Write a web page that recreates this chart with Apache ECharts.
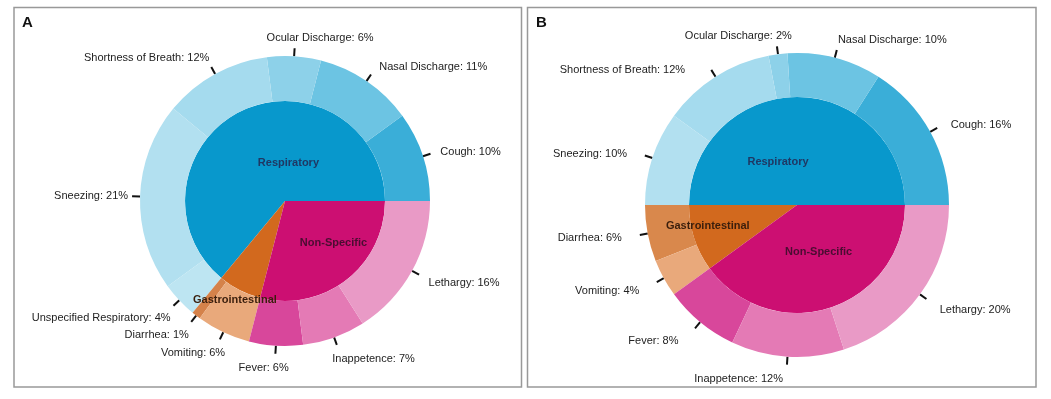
<!DOCTYPE html>
<html>
<head>
<meta charset="utf-8">
<script src="https://cdn.jsdelivr.net/npm/echarts@6/dist/echarts.min.js"></script>
<style>
  html, body { margin: 0; padding: 0; background: #fff; }
  #chart { width: 1051px; height: 399px; }
</style>
</head>
<body>
<div id="chart"></div>
<script>
// categories
var groupNames = ['Respiratory', 'Gastrointestinal', 'Non-Specific'];

// panel A
var symptomNamesA = ['Cough', 'Nasal Discharge', 'Ocular Discharge', 'Shortness of Breath', 'Sneezing',
  'Unspecified Respiratory', 'Diarrhea', 'Vomiting', 'Fever', 'Inappetence', 'Lethargy'];
var symptomValuesA = [10, 11, 6, 12, 21, 4, 1, 6, 6, 7, 16];
var groupValuesA = [64, 7, 29];

// panel B
var symptomNamesB = ['Cough', 'Nasal Discharge', 'Ocular Discharge', 'Shortness of Breath', 'Sneezing',
  'Diarrhea', 'Vomiting', 'Fever', 'Inappetence', 'Lethargy'];
var symptomValuesB = [16, 10, 2, 12, 10, 6, 4, 8, 12, 20];
var groupValuesB = [50, 10, 40];

// colours
var groupColors = ['#0898cc', '#d2691e', '#cc0f72'];
var groupTextColors = ['#1f3864', '#3a1e0c', '#4a0d31'];
var symptomColorsA = ['#3aaed8', '#6cc4e3', '#8dd1e9', '#a5dbee', '#b2e0f0', '#bde5f2',
  '#d5824a', '#e9a97b', '#d8479b', '#e47ab5', '#e99ac6'];
var symptomColorsB = ['#3aaed8', '#6cc4e3', '#8dd1e9', '#a5dbee', '#b2e0f0',
  '#d9884c', '#e9a97b', '#d8479b', '#e47ab5', '#e99ac6'];

var font = '"Liberation Sans", Arial, sans-serif';

function toData(names, values, colors, textColors) {
  return names.map(function (n, i) {
    var item = { name: n, value: values[i], itemStyle: { color: colors[i] } };
    if (textColors) item.label = { color: textColors[i] };
    return item;
  });
}

function clamp(v) { return Math.max(0, Math.min(1, v)); }

// tick + label placement around the ring (R-style pie labels)
// opt: shiftL / shiftR = extra horizontal room per side, nudge = {index: [dx, dy]}
function tickLayout(cx, cy, R, values, opt) {
  var sum = 0, acc = 0, mids = [];
  values.forEach(function (v) { sum += v; });
  values.forEach(function (v) {
    mids.push((acc + v / 2) / sum * 2 * Math.PI);
    acc += v;
  });
  return function (p) {
    var a = mids[p.dataIndex], c = Math.cos(a), s = Math.sin(a);
    var p0 = [cx + R * c, cy - R * s];
    var p1 = [cx + (R + 8) * c, cy - (R + 8) * s];
    var ax = cx + (R + 12) * c, ay = cy - (R + 12) * s;
    ax += (c < 0 ? opt.shiftL : opt.shiftR) * Math.min(1, 2 * Math.abs(c));
    if (s < 0) ay += -s * 4;
    var hj = 0.5 - 0.5 * (c < 0 ? -1 : 1) * Math.sqrt(Math.min(1, Math.abs(c) / 0.3));
    var vj = s > 0 ? 0.5 + 0.5 * s * s : clamp(0.5 + 0.75 * s);
    var n = opt.nudge[p.dataIndex] || [0, 0];
    return {
      x: ax - hj * p.labelRect.width + n[0],
      y: ay - vj * p.labelRect.height + n[1],
      align: 'left',
      verticalAlign: 'top',
      labelLinePoints: [p0, p1]
    };
  };
}

function nudgeLayout(nudges) {
  return function (p) {
    var n = nudges[p.dataIndex];
    return { dx: n[0], dy: n[1] };
  };
}

function innerPie(center, r, values, nudges) {
  return {
    type: 'pie',
    silent: true,
    center: center,
    radius: [0, r],
    startAngle: 0,
    clockwise: false,
    avoidLabelOverlap: false,
    itemStyle: { borderWidth: 0 },
    label: {
      position: 'inside',
      formatter: '{b}',
      fontFamily: font,
      fontSize: 11,
      fontWeight: 'bold'
    },
    labelLine: { show: false },
    labelLayout: nudgeLayout(nudges),
    data: toData(groupNames, values, groupColors, groupTextColors)
  };
}

function outerRing(center, r, R, names, values, colors, opt) {
  return {
    type: 'pie',
    silent: true,
    center: center,
    radius: [r, R],
    startAngle: 0,
    clockwise: false,
    avoidLabelOverlap: false,
    itemStyle: { borderWidth: 0 },
    label: {
      position: 'outside',
      formatter: '{b}: {c}%',
      fontFamily: font,
      fontSize: 11,
      lineHeight: 13,
      color: '#222'
    },
    labelLine: { show: true, length: 8, length2: 0, lineStyle: { color: '#111', width: 2 } },
    labelLayout: tickLayout(center[0], center[1], R, values, opt),
    data: toData(names, values, colors)
  };
}

var centerA = [285, 201], centerB = [797, 205];

var chart = echarts.init(document.getElementById('chart'));
chart.setOption({
  animation: false,
  backgroundColor: '#fff',
  title: [
    { text: 'A', left: 22, top: 15, padding: 0, textStyle: { fontFamily: font, fontSize: 15, fontWeight: 'bold', color: '#111' } },
    { text: 'B', left: 536, top: 15, padding: 0, textStyle: { fontFamily: font, fontSize: 15, fontWeight: 'bold', color: '#111' } }
  ],
  graphic: [
    { type: 'rect', shape: { x: 14, y: 7.5, width: 507.5, height: 379.5 }, style: { fill: 'none', stroke: '#999', lineWidth: 1.5 }, silent: true },
    { type: 'rect', shape: { x: 527.5, y: 7.5, width: 508.5, height: 379.5 }, style: { fill: 'none', stroke: '#999', lineWidth: 1.5 }, silent: true }
  ],
  series: [
    innerPie(centerA, 100, groupValuesA, [[26, 10], [-26, 52], [16, 0]]),
    outerRing(centerA, 100, 145, symptomNamesA, symptomValuesA, symptomColorsA,
      { shiftL: 0, shiftR: 6, nudge: { 7: [7, 0], 9: [-10, 0] } }),
    innerPie(centerB, 108, groupValuesB, [[-19, 14], [-35, 3], [4, -7]]),
    outerRing(centerB, 108, 152, symptomNamesB, symptomValuesB, symptomColorsB,
      { shiftL: -14, shiftR: 10, nudge: { 3: [-10, 8], 8: [-26, 0] } })
  ]
});
</script>
</body>
</html>
